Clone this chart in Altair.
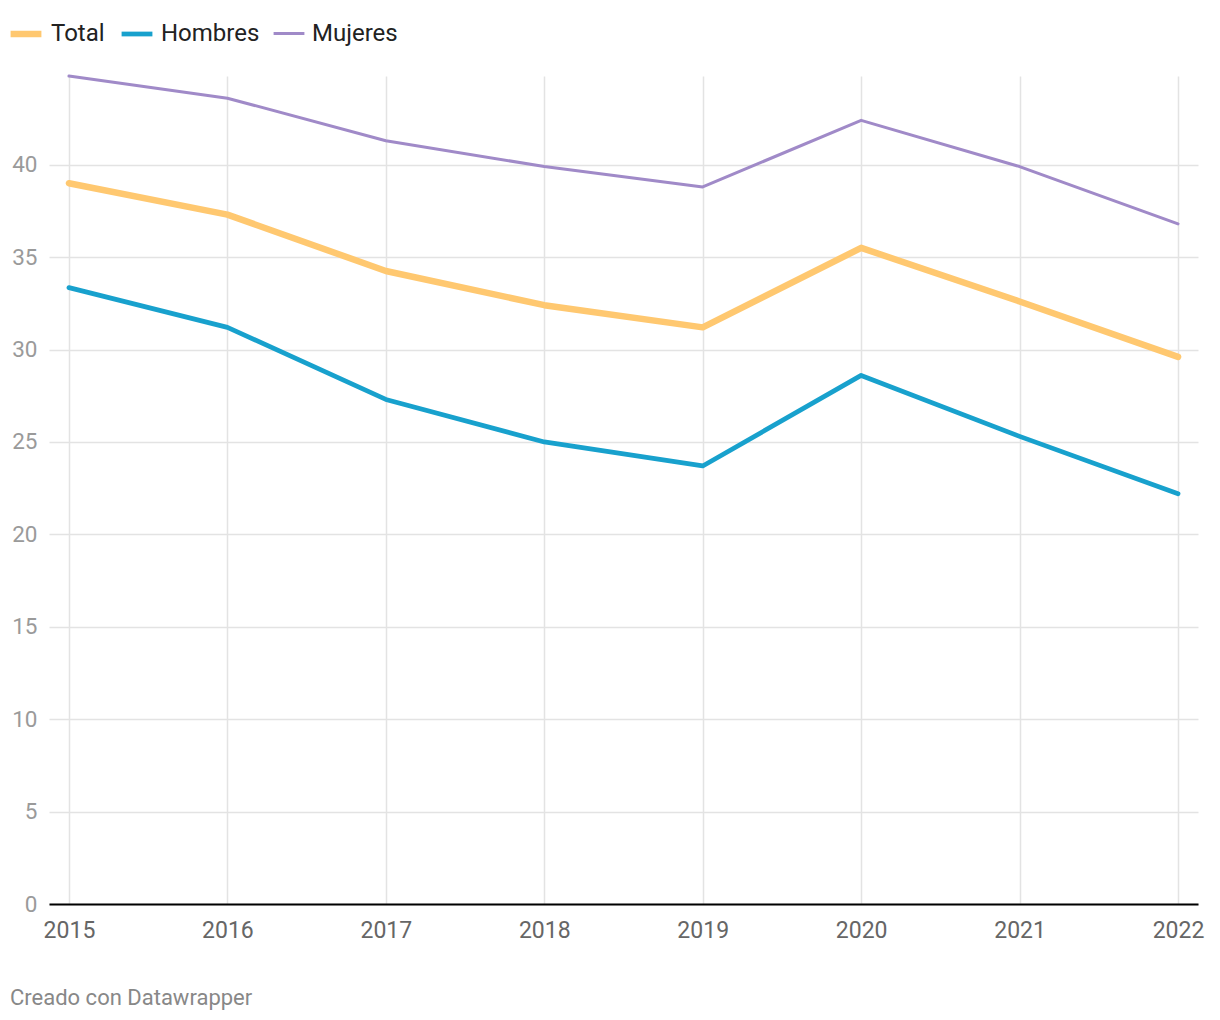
import altair as alt
import pandas as pd

years = [2015, 2016, 2017, 2018, 2019, 2020, 2021, 2022]
series = ["Total", "Hombres", "Mujeres"]
total = [39.0, 37.3, 34.25, 32.4, 31.2, 35.5, 32.6, 29.6]
hombres = [33.35, 31.2, 27.3, 25.0, 23.7, 28.6, 25.3, 22.2]
mujeres = [44.8, 43.6, 41.3, 39.9, 38.8, 42.4, 39.9, 36.8]
colors = ["#ffc870", "#18a1cd", "#a08ac8"]
widths = [6.5, 3.0, 3.0]
y_ticks = [0, 5, 10, 15, 20, 25, 30, 35, 40]

rows = []
for name, vals in zip(series, [total, hombres, mujeres]):
    for yr, v in zip(years, vals):
        rows.append({"serie": name, "year": yr, "value": v})
df = pd.DataFrame(rows)

FONT = "Roboto"

legend = alt.Legend(
    title=None,
    orient="none",
    legendX=-42,
    legendY=-61,
    direction="horizontal",
    symbolType="stroke",
    symbolSize=950,
    labelFontSize=24,
    labelFont=FONT,
    labelColor="#222222",
    labelOffset=6,
    columnPadding=7,
    padding=0,
)

chart = alt.Chart(df).mark_line(strokeCap="round", strokeJoin="round").encode(
    x=alt.X(
        "year:O",
        scale=alt.Scale(type="point", padding=0.126),
        axis=alt.Axis(
            title=None,
            ticks=False,
            grid=True,
            gridColor="#e3e3e3",
            gridWidth=1.5,
            domainColor="#000000",
            domainWidth=2,
            labelFont=FONT,
            labelFontSize=23,
            labelColor="#666666",
            labelPadding=15,
            labelAngle=0,
        ),
    ),
    y=alt.Y(
        "value:Q",
        scale=alt.Scale(domain=[0, 44.8], nice=False, zero=True),
        axis=alt.Axis(
            title=None,
            values=y_ticks,
            ticks=False,
            domain=False,
            grid=True,
            gridColor="#e3e3e3",
            gridWidth=1.5,
            labelFont=FONT,
            labelFontSize=22.5,
            labelColor="#9a9a9a",
            labelPadding=12,
            labelBaseline="middle",
        ),
    ),
    color=alt.Color(
        "serie:N",
        scale=alt.Scale(domain=series, range=colors),
        sort=series,
        legend=legend,
    ),
    strokeWidth=alt.StrokeWidth(
        "serie:N",
        scale=alt.Scale(domain=series, range=widths),
        sort=series,
        legend=legend,
    ),
).properties(
    width=1149,
    height=828,
    autosize=alt.AutoSizeParams(type="none"),
    padding={"left": 49, "top": 76, "right": 22, "bottom": 116},
    title=alt.TitleParams(
        "Creado con Datawrapper",
        orient="bottom",
        anchor="start",
        frame="group",
        dx=-39,
        offset=46,
        font=FONT,
        fontSize=22,
        fontWeight="normal",
        color="#888888",
    ),
).configure_view(stroke=None)

chart.save("out.html", embed_options={"renderer": "svg", "actions": False})
